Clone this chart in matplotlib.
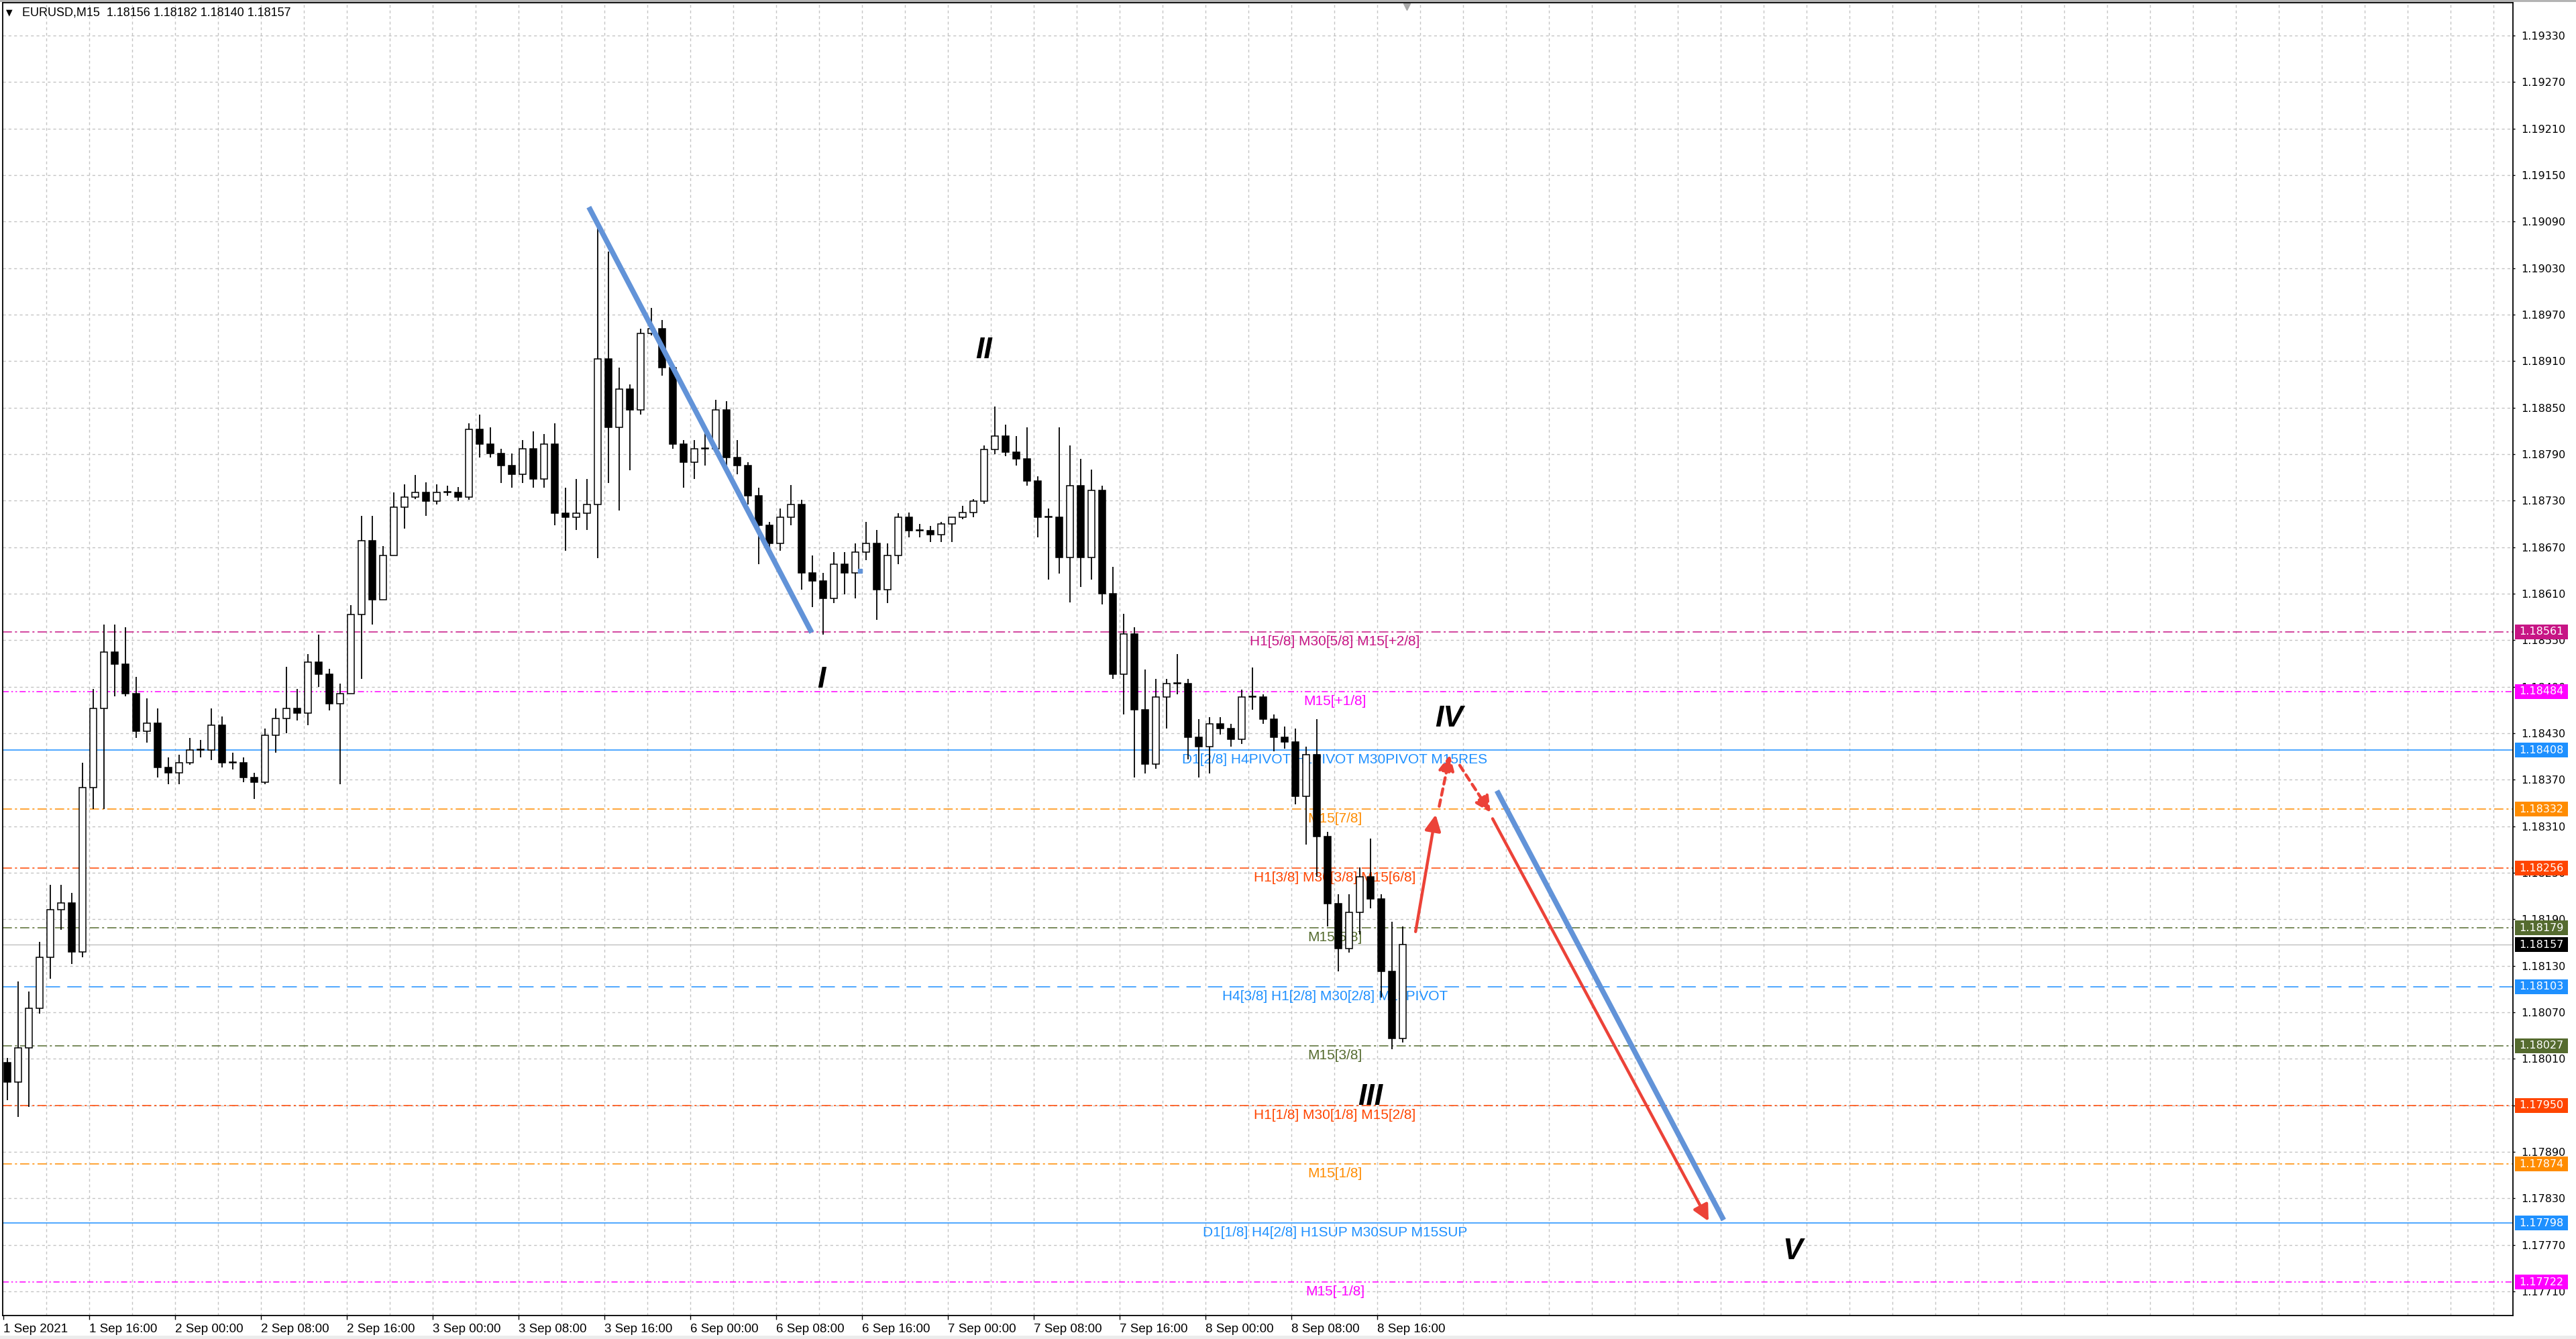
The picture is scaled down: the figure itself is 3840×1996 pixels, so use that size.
import matplotlib
matplotlib.use("Agg")
import matplotlib.pyplot as plt
import matplotlib.transforms as mtransforms
from matplotlib.patches import Rectangle, FancyArrowPatch
import numpy as np

first_open = 1.18005
highs = [1.18011, 1.18110, 1.18097, 1.18161, 1.18234, 1.18234, 1.18224, 1.18392, 1.18487, 1.18570,
         1.18570, 1.18567, 1.18503, 1.18475, 1.18462, 1.18399, 1.18402, 1.18424, 1.18421, 1.18462,
         1.18452, 1.18405, 1.18399, 1.18379, 1.18436, 1.18462, 1.18516, 1.18487, 1.18532, 1.18557,
         1.18513, 1.18494, 1.18595, 1.18710, 1.18710, 1.18671, 1.18741, 1.18751, 1.18763, 1.18754,
         1.18751, 1.18749, 1.18748, 1.18830, 1.18841, 1.18825, 1.18797, 1.18791, 1.18808, 1.18819,
         1.18816, 1.18830, 1.18747, 1.18758, 1.18758, 1.19091, 1.19051, 1.18902, 1.18880, 1.18952,
         1.18979, 1.18963, 1.18907, 1.18808, 1.18808, 1.18825, 1.18860, 1.18858, 1.18808, 1.18780,
         1.18747, 1.18703, 1.18720, 1.18750, 1.18731, 1.18659, 1.18637, 1.18664, 1.18664, 1.18675,
         1.18703, 1.18692, 1.18675, 1.18714, 1.18715, 1.18700, 1.18697, 1.18703, 1.18709, 1.18723,
         1.18732, 1.18801, 1.18851, 1.18828, 1.18813, 1.18825, 1.18761, 1.18720, 1.18825, 1.18801,
         1.18784, 1.18770, 1.18749, 1.18645, 1.18584, 1.18567, 1.18512, 1.18500, 1.18500, 1.18532,
         1.18500, 1.18448, 1.18451, 1.18451, 1.18442, 1.18486, 1.18515, 1.18480, 1.18454, 1.18439,
         1.18436, 1.18413, 1.18448, 1.18303, 1.18222, 1.18222, 1.18257, 1.18294, 1.18222, 1.18187,
         1.18181]
lows = [1.17957, 1.17935, 1.17948, 1.18068, 1.18113, 1.18176, 1.18132, 1.18141, 1.18332, 1.18332,
        1.18478, 1.18478, 1.18424, 1.18418, 1.18373, 1.18364, 1.18364, 1.18389, 1.18399, 1.18395,
        1.18386, 1.18383, 1.18367, 1.18345, 1.18364, 1.18405, 1.18430, 1.18446, 1.18440, 1.18490,
        1.18459, 1.18364, 1.18481, 1.18500, 1.18570, 1.18602, 1.18659, 1.18694, 1.18732, 1.18710,
        1.18725, 1.18736, 1.18729, 1.18731, 1.18786, 1.18786, 1.18753, 1.18747, 1.18753, 1.18747,
        1.18747, 1.18698, 1.18665, 1.18692, 1.18692, 1.18656, 1.18753, 1.18717, 1.18769, 1.18841,
        1.18943, 1.18891, 1.18797, 1.18747, 1.18758, 1.18775, 1.18791, 1.18775, 1.18764, 1.18725,
        1.18648, 1.18665, 1.18665, 1.18698, 1.18615, 1.18593, 1.18557, 1.18598, 1.18609, 1.18604,
        1.18653, 1.18576, 1.18598, 1.18648, 1.18683, 1.18683, 1.18677, 1.18677, 1.18677, 1.18706,
        1.18709, 1.18726, 1.18790, 1.18787, 1.18775, 1.18749, 1.18683, 1.18628, 1.18636, 1.18599,
        1.18619, 1.18628, 1.18596, 1.18500, 1.18454, 1.18373, 1.18378, 1.18384, 1.18436, 1.18480,
        1.18396, 1.18373, 1.18378, 1.18428, 1.18413, 1.18416, 1.18460, 1.18442, 1.18407, 1.18410,
        1.18338, 1.18286, 1.18245, 1.18181, 1.18123, 1.18147, 1.18170, 1.18204, 1.18089, 1.18022,
        1.18031]
closes = [1.17980, 1.18024, 1.18075, 1.18141, 1.18202, 1.18211, 1.18148, 1.18360, 1.18462, 1.18535,
          1.18519, 1.18481, 1.18433, 1.18443, 1.18386, 1.18379, 1.18392, 1.18408, 1.18408, 1.18440,
          1.18392, 1.18392, 1.18373, 1.18367, 1.18427, 1.18449, 1.18462, 1.18456, 1.18522, 1.18506,
          1.18468, 1.18481, 1.18583, 1.18678, 1.18602, 1.18659, 1.18722, 1.18735, 1.18741, 1.18729,
          1.18741, 1.18741, 1.18735, 1.18822, 1.18803, 1.18791, 1.18775, 1.18764, 1.18797, 1.18758,
          1.18803, 1.18714, 1.18709, 1.18714, 1.18725, 1.18913, 1.18825, 1.18874, 1.18847, 1.18946,
          1.18952, 1.18902, 1.18803, 1.18780, 1.18797, 1.18797, 1.18847, 1.18786, 1.18775, 1.18736,
          1.18698, 1.18675, 1.18709, 1.18725, 1.18637, 1.18626, 1.18604, 1.18648, 1.18637, 1.18664,
          1.18675, 1.18615, 1.18659, 1.18709, 1.18691, 1.18691, 1.18686, 1.18700, 1.18709, 1.18715,
          1.18729, 1.18796, 1.18813, 1.18793, 1.18784, 1.18755, 1.18709, 1.18709, 1.18657, 1.18749,
          1.18657, 1.18743, 1.18610, 1.18506, 1.18558, 1.18460, 1.18390, 1.18477, 1.18494, 1.18494,
          1.18425, 1.18413, 1.18442, 1.18436, 1.18422, 1.18477, 1.18477, 1.18448, 1.18425, 1.18419,
          1.18349, 1.18402, 1.18297, 1.18210, 1.18152, 1.18199, 1.18245, 1.18216, 1.18123, 1.18036,
          1.18157]

# time axis labels (every 32 M15 bars)
xlabels = ["1 Sep 2021", "1 Sep 16:00", "2 Sep 00:00", "2 Sep 08:00", "2 Sep 16:00",
           "3 Sep 00:00", "3 Sep 08:00", "3 Sep 16:00", "6 Sep 00:00", "6 Sep 08:00",
           "6 Sep 16:00", "7 Sep 00:00", "7 Sep 08:00", "7 Sep 16:00", "8 Sep 00:00",
           "8 Sep 08:00", "8 Sep 16:00"]
yticks = [1.17710 + 0.0006 * k for k in range(28)]

# murrey math levels
levels = [1.18561, 1.18484, 1.18408, 1.18332, 1.18256, 1.18179,
          1.18103, 1.18027, 1.17950, 1.17874, 1.17798, 1.17722]
level_names = ["H1[5/8] M30[5/8] M15[+2/8]", "M15[+1/8]",
               "D1[2/8] H4PIVOT H1PIVOT M30PIVOT M15RES", "M15[7/8]",
               "H1[3/8] M30[3/8] M15[6/8]", "M15[5/8]",
               "H4[3/8] H1[2/8] M30[2/8] M15PIVOT", "M15[3/8]",
               "H1[1/8] M30[1/8] M15[2/8]", "M15[1/8]",
               "D1[1/8] H4[2/8] H1SUP M30SUP M15SUP", "M15[-1/8]"]
level_colors = ['#c71585', '#ff00ff', '#1e90ff', '#ff8c00', '#ff4500', '#556b2f',
                '#1e90ff', '#556b2f', '#ff4500', '#ff8c00', '#1e90ff', '#ff00ff']
level_styles = ['dd', 'ddd', 'solid', 'dd', 'dd', 'dd', 'dash', 'dd', 'dd', 'dd', 'solid', 'ddd']
last_price = 1.18157

# hand drawn marks (bar index, price)
blue_lines = [((218.2, 1.191087), (301.25, 1.185598)),
              ((556.6, 1.183558), (641.1, 1.178020))]
red_arrows = [((526.3, 1.181740), (533.8, 1.183250), 'solid'),
              ((535.1, 1.183357), (539.1, 1.184019), 'dashed'),
              ((542.75, 1.183886), (554.25, 1.183276), 'dashed'),
              ((555.0, 1.183197), (635.5, 1.178004), 'solid')]
waves = ["I", "II", "III", "IV", "V"]
wave_x = [304.75, 365.5, 509.5, 538.75, 666.75]
wave_y = [1.184992, 1.189241, 1.179601, 1.184490, 1.177611]

W, H = 3840, 1996
fig = plt.figure(figsize=(W / 100, H / 100), dpi=100)
fig.patch.set_facecolor('white')
ax = fig.add_axes([4 / W, 35 / H, 3742 / W, 1957 / H])
ax.set_xlim(-0.25, 935.25)
ax.set_ylim(1.176788, 1.193724)

styles = {'dd': (0, (9, 3, 2, 3)), 'ddd': (0, (6, 2.5, 1.5, 2.5, 1.5, 2.5)),
          'dash': (0, (14, 7)), 'solid': '-'}

# grid
grid_ls = (0, (3, 3))
for v in yticks:
    ax.axhline(v, color='#c4c4c4', lw=1.0, ls=grid_ls, zorder=0)
for b in range(16, 936, 16):
    ax.axvline(b, color='#c4c4c4', lw=1.0, ls=grid_ls, zorder=0)

# levels
for lv, name, col, st in zip(levels, level_names, level_colors, level_styles):
    ax.axhline(lv, color=col, lw=1.1, ls=styles[st], zorder=1)
    ax.annotate(name, xy=(496.25, lv), xytext=(0, -5), textcoords='offset pixels',
                ha='center', va='top', color=col, fontsize=15,
                family='Liberation Sans', zorder=2)
ax.axhline(last_price, color='#c0c0c0', lw=1.0, zorder=1)

# candles
opens = [first_open] + closes[:-1]
centers = np.arange(len(closes)) * 4 + 1.5
ax.vlines(centers, lows, highs, color='black', lw=1.3, zorder=3)
for x, o, c in zip(centers, opens, closes):
    fc = 'white' if c >= o else 'black'
    ax.bar(x, max(abs(c - o), 0.000008), bottom=min(o, c), width=2.6,
           color=fc, edgecolor='black', linewidth=1.1, zorder=4)

# drawings
for (x0, y0), (x1, y1) in blue_lines:
    ax.plot([x0, x1], [y0, y1], color='#6293d8', lw=5.6, solid_capstyle='butt', zorder=5)
ax.plot([319.25], [1.186394], marker='s', ms=4, color='#6293d8', zorder=5)
for (x0, y0), (x1, y1), st in red_arrows:
    ls = '-' if st == 'solid' else (0, (2.2, 1.6))
    arr = FancyArrowPatch((x0, y0), (x1, y1), arrowstyle='-|>,head_length=0.9,head_width=0.45',
                          mutation_scale=16, color='#ec4238', lw=3.2, linestyle=ls,
                          shrinkA=0, shrinkB=0, zorder=6)
    ax.add_patch(arr)
for t, x, y in zip(waves, wave_x, wave_y):
    ax.text(x, y, t, ha='center', va='center', fontsize=32, style='italic',
            weight='bold', family='Liberation Sans', color='black', zorder=6)

# axes look
for s in ax.spines.values():
    s.set_color('black')
    s.set_linewidth(1.3)
ax.yaxis.tick_right()
ax.set_yticks(yticks)
ax.set_yticklabels([f"{v:.5f}" for v in yticks], fontsize=11.5, family='DejaVu Sans')
ax.tick_params(axis='y', length=2.5, width=1, pad=6, colors='black')
ax.set_xticks([32 * k for k in range(len(xlabels))])
ax.set_xticklabels(xlabels, ha='left', fontsize=13.5, family='Liberation Sans')
ax.tick_params(axis='x', length=4, width=1, pad=5, colors='black')

# price tags on the scale
blend = mtransforms.blended_transform_factory(ax.transAxes, ax.transData)
tag_w = 79 / 3742
tag_h = 22 / 115556
for lv, col in list(zip(levels, level_colors)) + [(last_price, 'black')]:
    ax.add_patch(Rectangle((1 + 3 / 3742, lv - tag_h / 2), tag_w, tag_h, transform=blend,
                           facecolor=col, edgecolor='none', clip_on=False, zorder=7))
    ax.text(1 + 3 / 3742 + tag_w / 2, lv, f"{lv:.5f}", transform=blend, ha='center',
            va='center', color='white', fontsize=11.5, family='DejaVu Sans',
            clip_on=False, zorder=8)

# chart shift marker
shift = mtransforms.blended_transform_factory(ax.transData, ax.transAxes)
ax.plot([523], [0.997], marker='v', ms=7, color='#a8a8a8', transform=shift, clip_on=False)

# title line
fig.text(9 / W, 1 - 19 / H, "\u25bc", fontsize=9, va='center', ha='left', family='DejaVu Sans')
fig.text(33 / W, 1 - 19 / H, "EURUSD,M15  1.18156 1.18182 1.18140 1.18157", fontsize=13,
         va='center', ha='left', family='Liberation Sans')
fig.add_artist(Rectangle((0, 1 - 3 / H), 1, 3 / H, transform=fig.transFigure,
                         facecolor='#b4b4b4', edgecolor='none'))
fig.add_artist(Rectangle((0, 0), 1, 5 / H, transform=fig.transFigure,
                         facecolor='#ececec', edgecolor='none'))

fig.savefig("out.png", dpi=100)
